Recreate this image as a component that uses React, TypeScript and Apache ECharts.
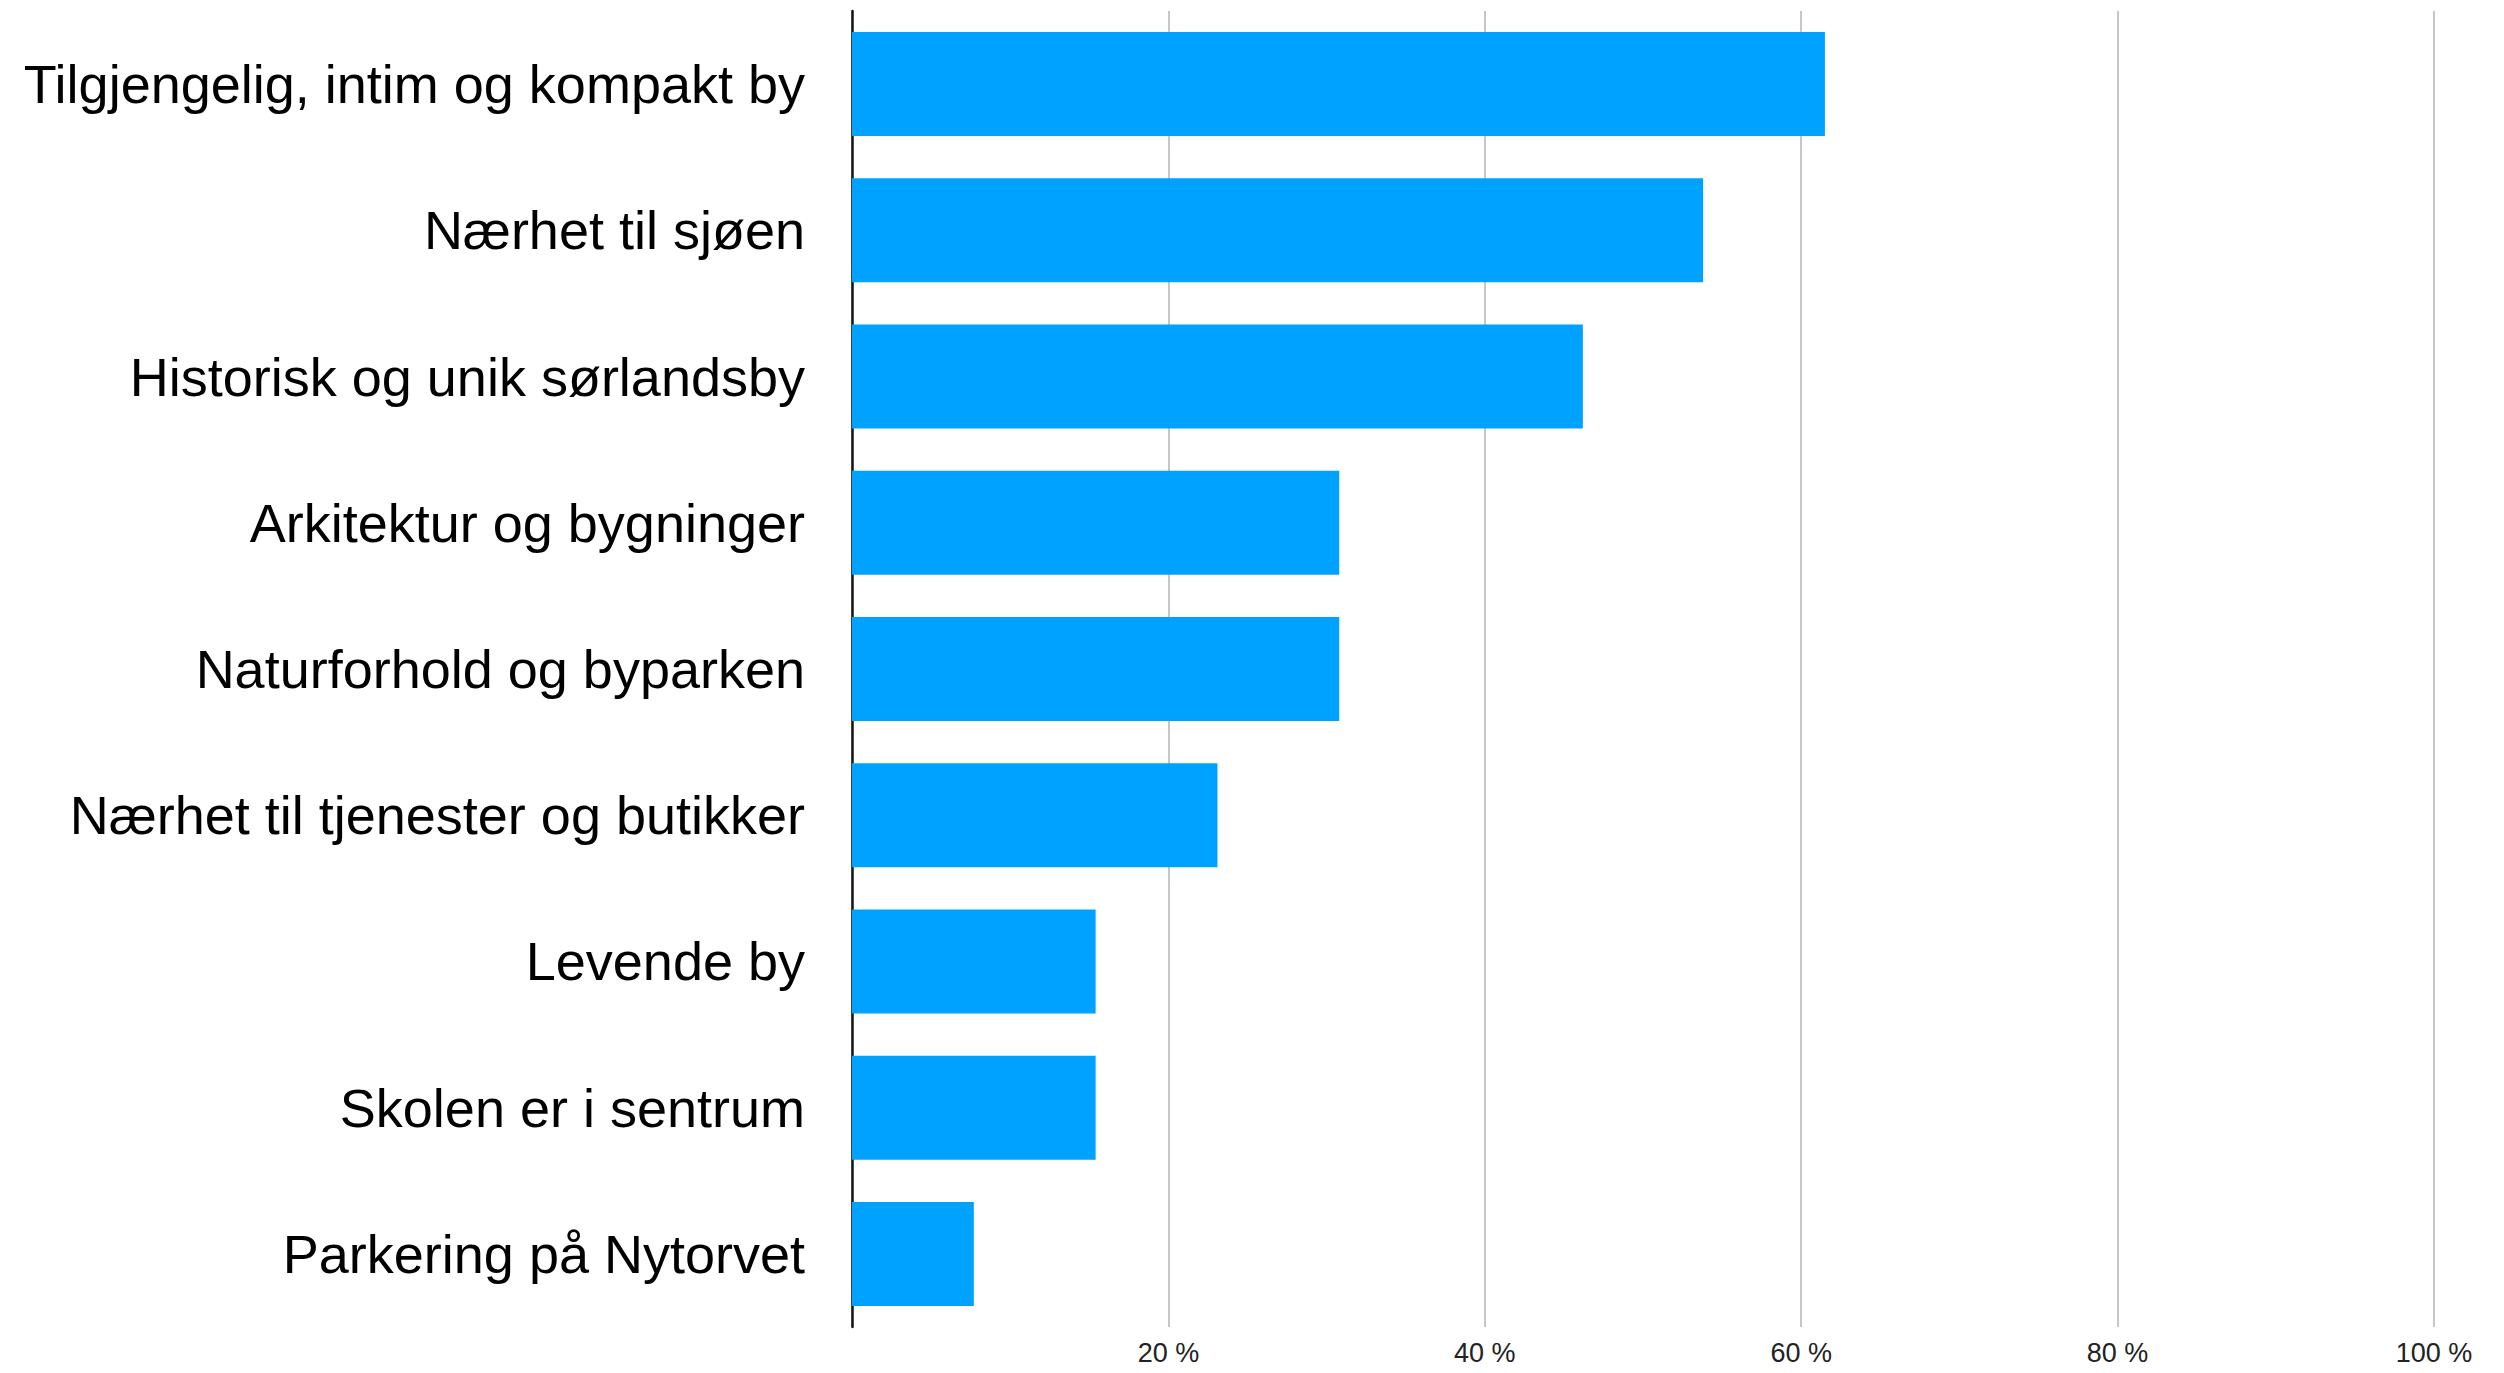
import React, { useEffect, useRef } from "react";
import * as echarts from "echarts";

const categories = [
  "Tilgjengelig, intim og kompakt by",
  "Nærhet til sjøen",
  "Historisk og unik sørlandsby",
  "Arkitektur og bygninger",
  "Naturforhold og byparken",
  "Nærhet til tjenester og butikker",
  "Levende by",
  "Skolen er i sentrum",
  "Parkering på Nytorvet",
];
const values = [61.5, 53.8, 46.2, 30.8, 30.8, 23.1, 15.4, 15.4, 7.7];
const tickValues = [0, 20, 40, 60, 80, 100];

export default function App() {
  const ref = useRef<HTMLDivElement>(null);
  useEffect(() => {
    if (!ref.current) return;
    const chart = echarts.init(ref.current, undefined, { renderer: "svg" });
    chart.setOption({
      animation: false,
      backgroundColor: "#ffffff",
      grid: { left: 852, right: 70, top: 11, bottom: 46, containLabel: false },
      xAxis: {
        type: "value",
        min: tickValues[0],
        max: tickValues[tickValues.length - 1],
        interval: tickValues[1] - tickValues[0],
        axisLine: { show: false },
        axisTick: { show: false },
        splitLine: { show: true, lineStyle: { color: "#c6c6c6", width: 2 } },
        axisLabel: {
          margin: 12,
          fontSize: 27,
          color: "#222222",
          fontFamily: "Liberation Sans, Arial, sans-serif",
          formatter: (v: number) => (v === 0 ? "" : `${v} %`),
        },
      },
      yAxis: {
        type: "category",
        inverse: true,
        data: categories,
        axisTick: { show: false },
        axisLine: { show: true, lineStyle: { color: "#151515", width: 2.5 } },
        axisLabel: {
          margin: 47,
          fontSize: 54,
          color: "#000000",
          fontFamily: "Liberation Sans, Arial, sans-serif",
        },
      },
      series: [
        {
          type: "bar",
          data: values,
          barWidth: 104,
          itemStyle: { color: "#00A2FF" },
          z: 1,
        },
      ],
    });
    return () => chart.dispose();
  }, []);
  return (
    <div
      ref={ref}
      style={{ position: "fixed", left: 0, top: 0, width: 2504, height: 1373 }}
    />
  );
}
